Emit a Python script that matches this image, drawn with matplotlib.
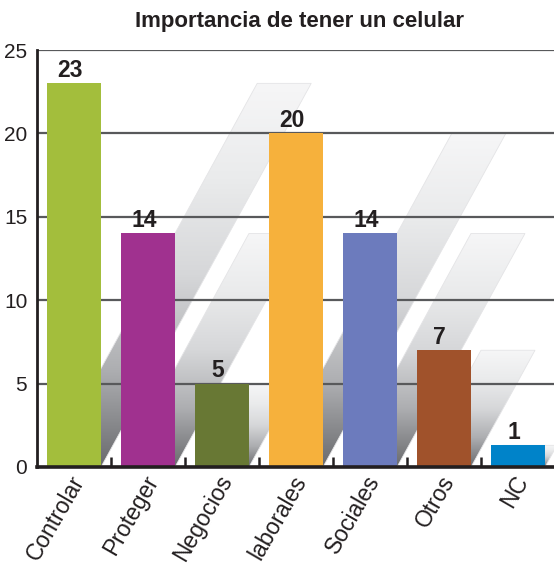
import numpy as np
import matplotlib
matplotlib.use("Agg")
import matplotlib.pyplot as plt
from matplotlib.patches import Polygon
from matplotlib.colors import LinearSegmentedColormap
from matplotlib.transforms import ScaledTranslation

# %% Data
categorias = ["Controlar", "Proteger", "Negocios", "laborales", "Sociales", "Otros", "NC"]
valores = [23, 14, 5, 20, 14, 7, 1.3]
etiquetas = ["23", "14", "5", "20", "14", "7", "1"]
colores = ["#a3be3c", "#a0318f", "#687834", "#f6b13c", "#6c7bbd", "#a0522b", "#0083c9"]
yticks = [0, 5, 10, 15, 20, 25]

# %% Style
font = ["Liberation Sans Narrow", "Liberation Sans", "DejaVu Sans"]
plt.rcParams["font.family"] = font
dark = "#231f20"

fig = plt.figure(figsize=(5.54, 5.65), dpi=100)
ax = fig.add_axes([37 / 554, 98 / 565, 1 - 37 / 554, 417 / 565])

x = np.arange(len(categorias))
ancho = 0.73
slant = 0.1235  # horizontal shift of the shadow per value unit

# %% Slanted gradient shadows
cmap = LinearSegmentedColormap.from_list(
    "sombra", ["#6a6b6e", "#adaeb1", "#d6d7d9", "#eaebec", "#f6f6f7"])
grad = np.linspace(1, 0, 256).reshape(-1, 1)
for xi, v in zip(x, valores):
    x0, x1 = xi - ancho / 2, xi + ancho / 2
    pts = [(x0, 0), (x1, 0), (x1 + v * slant, v), (x0 + v * slant, v)]
    poly = Polygon(pts, closed=True, facecolor="none", edgecolor="#e4e4e6",
                   lw=0.6, zorder=0.3, transform=ax.transData)
    ax.add_patch(poly)
    im = ax.imshow(grad, cmap=cmap, aspect="auto", zorder=0.2,
                   extent=[x0, x1 + v * slant, 0, v], interpolation="bilinear")
    im.set_clip_path(poly)

# %% Bars
ax.bar(x, valores, width=ancho, color=colores, zorder=2)
for xi, v, t in zip(x, valores, etiquetas):
    ax.annotate(t, (xi, v), xytext=(-3, 4.5), textcoords="offset points",
                ha="center", va="baseline", fontsize=16.5, fontweight="bold",
                color=dark, zorder=3)

# %% Axes
ax.set_xlim(-0.5, 6.486)
ax.set_ylim(0, 25)
ax.set_yticks(yticks)
ax.set_yticklabels([str(t) for t in yticks], fontsize=15, color=dark)
ax.tick_params(axis="y", length=0, pad=7)
ax.yaxis.grid(True, color="#58595b", lw=1.6)
ax.set_axisbelow(True)

ax.set_xticks(x)
ax.set_xticklabels(categorias, rotation=60, ha="right", va="top",
                   rotation_mode="anchor", fontsize=16.5, color=dark)
ax.tick_params(axis="x", length=0, pad=3)
shift = ScaledTranslation(-5 / 100, 0, fig.dpi_scale_trans)
for lbl in ax.get_xticklabels():
    lbl.set_transform(lbl.get_transform() + shift)
ax.set_xticks(x[:-1] + 0.5, minor=True)
ax.tick_params(axis="x", which="minor", direction="in", length=7, width=1.8,
               color=dark)

for s in ["top", "right"]:
    ax.spines[s].set_visible(False)
ax.spines["left"].set_linewidth(2)
ax.spines["left"].set_color(dark)
ax.spines["bottom"].set_linewidth(2.6)
ax.spines["bottom"].set_color(dark)
ax.spines["bottom"].set_zorder(4)

fig.text(0.54, 0.962, "Importancia de tener un celular", ha="center", va="center",
         fontsize=16, fontweight="bold", color=dark)

fig.savefig("out.png", dpi=100)
